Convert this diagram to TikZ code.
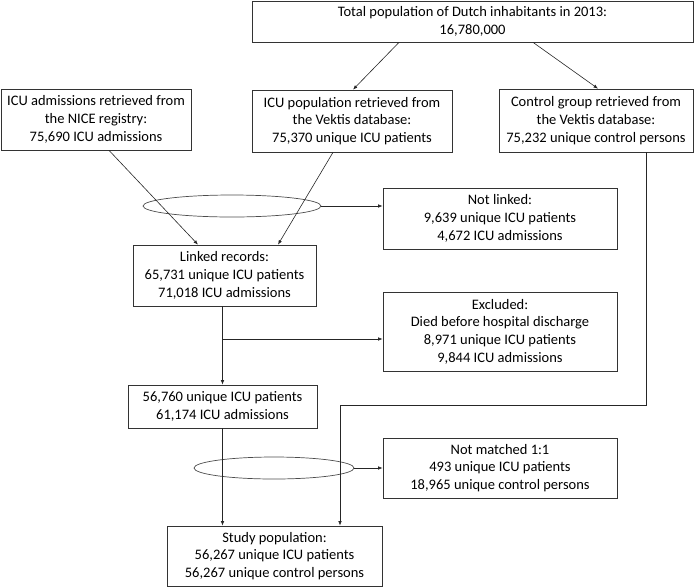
\documentclass[tikz,border=0pt]{standalone}
\usepackage{fontspec}
\setmainfont{Carlito}
\usetikzlibrary{shapes.geometric,arrows.meta,calc}
\begin{document}
\begin{tikzpicture}[x=1pt,y=-1pt,
  box/.style={draw=black!80,line width=0.7pt,align=center,inner sep=0pt,
    font=\fontsize{14.5}{17.7}\selectfont},
  oval/.style={draw=black!70,line width=0.7pt,ellipse,inner sep=0pt},
  arr/.style={draw=black!85,line width=0.6pt,-{Latex[length=4.5pt,width=3.5pt]}},
  ln/.style={draw=black!85,line width=0.6pt}]
\useasboundingbox (0,0) rectangle (700,587);
\node[box,minimum width=441pt,minimum height=41pt] (top) at (472.5,21.5)
  {Total population of Dutch inhabitants in 2013:\\16,780,000};
\node[box,minimum width=190pt,minimum height=61pt] (nice) at (96,119.5)
  {ICU admissions retrieved from\\the NICE registry:\\75,690 ICU admissions};
\node[box,minimum width=200pt,minimum height=62pt] (icu) at (352,121)
  {ICU population retrieved from\\the Vektis database:\\75,370 unique ICU patients};
\node[box,minimum width=194pt,minimum height=63pt] (ctrl) at (596,120.5)
  {Control group retrieved from\\the Vektis database:\\75,232 unique control persons};
\node[box,minimum width=234pt,minimum height=61pt] (notlinked) at (500,218.5)
  {Not linked:\\9,639 unique ICU patients\\4,672 ICU admissions};
\node[box,minimum width=183pt,minimum height=61pt] (linked) at (224.5,275.5)
  {Linked records:\\65,731 unique ICU patients\\71,018 ICU admissions};
\node[box,minimum width=234pt,minimum height=79pt] (excl) at (500,331.5)
  {Excluded:\\Died before hospital discharge\\8,971 unique ICU patients\\9,844 ICU admissions};
\node[box,minimum width=189pt,minimum height=43pt] (p56) at (222.5,406.5)
  {56,760 unique ICU patients\\61,174 ICU admissions};
\node[box,minimum width=234pt,minimum height=60pt] (notmatched) at (500,468)
  {Not matched 1:1\\493 unique ICU patients\\18,965 unique control persons};
\node[box,minimum width=215pt,minimum height=60pt] (study) at (274.5,556)
  {Study population:\\56,267 unique ICU patients\\56,267 unique control persons};
\node[oval,minimum width=178pt,minimum height=22pt] (e1) at (232,206) {};
\node[oval,minimum width=160pt,minimum height=22pt] (e2) at (274,468) {};
% connectors
\draw[arr] ([xshift=-73.5pt]top.south) -- ([xshift=1pt]icu.north);
\draw[arr] ([xshift=60.5pt]top.south) -- ([xshift=2pt]ctrl.north);
\draw[arr] ([xshift=13pt]nice.south) -- ([xshift=-26.5pt]linked.north);
\draw[arr] ([xshift=-19pt]icu.south) -- ([xshift=53.5pt]linked.north);
\draw[arr] (e1.east) -- (e1.east -| notlinked.west);
\draw[arr] (linked.south -| p56.north) -- (p56.north);
\coordinate (b1) at (222.5,339);
\draw[arr] (b1) -- (b1 -| excl.west);
\coordinate (c1) at (340,405);
\draw[arr] ([xshift=50pt]ctrl.south) |- (c1) -- (c1 |- study.north);
\draw[arr] (p56.south) -- (p56.south |- study.north);
\draw[arr] (e2.east) -- (e2.east -| notmatched.west);
\end{tikzpicture}
\end{document}
